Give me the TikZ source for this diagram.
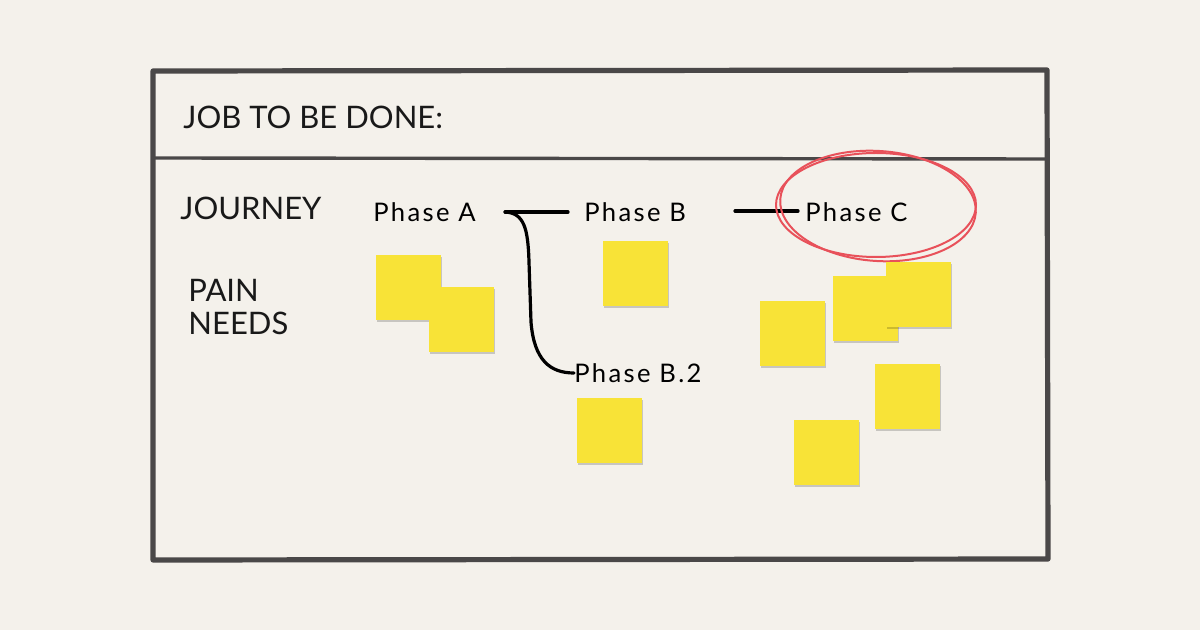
\documentclass[tikz,border=0pt]{standalone}
\usepackage{fontspec}
\setmainfont{Lato}
\newfontfamily\handfont[LetterSpace=9]{Lato}
\usetikzlibrary{shadows,calc}
\definecolor{bg}{HTML}{F4F1EB}
\definecolor{frame}{HTML}{4A4848}
\definecolor{sticky}{HTML}{F8E337}
\definecolor{ring}{HTML}{E8515A}
\tikzset{
  note/.style={fill=sticky, minimum width=32.5pt, minimum height=32.5pt, inner sep=0pt,
    drop shadow={shadow xshift=0.4pt, shadow yshift=-1pt, opacity=0.18, fill=black}},
  head/.style={anchor=west, inner sep=0pt, font=\fontsize{15.5}{18}\selectfont, text=black!90},
  phase/.style={anchor=west, inner sep=0pt, font=\handfont\fontsize{12.8}{14}\selectfont, text=black},
  link/.style={line width=1.6pt, black, line cap=round},
  frameline/.style={frame, line width=2.6pt, line join=round},
}
\begin{document}
\begin{tikzpicture}[x=0.5pt,y=-0.5pt]
\fill[bg] (0,0) rectangle (1200,630);
\useasboundingbox (0,0) rectangle (1200,630);
% frame
\draw[frameline] (153,71) -- (1047,70) -- (1048,559) -- (153,560) -- cycle;
\draw[frame, line width=1.7pt] (153,158) -- (1047,159);
% headings
\node[head] (jtbd) at (183,117) {JOB TO BE DONE:};
\node[head] (journey) at (180,208) {JOURNEY};
\node[head] (pain) at (188,290) {PAIN};
\node[head] (needs) at (188,323) {NEEDS};
% phases
\node[phase] (pa) at (373,212) {Phase A};
\node[phase] (pb) at (584,212) {Phase B};
\node[phase] (pc) at (805,212) {Phase C};
\node[phase] (pb2) at (574,373) {Phase B.2};
% connectors
\coordinate (fork) at (505,212);
\coordinate (bend) at (568,212);
\coordinate (bc1) at (735,211);
\coordinate (bc2) at (798,211);
\draw[link] (fork) -- (bend);
\draw[link] (fork) .. controls (524,213) and (528,228) .. (529,262)
  -- (531,322) .. controls (534,360) and (550,373) .. (pb2.west);
\draw[link] (bc1) -- (bc2);
% red ring
\draw[ring, line width=1pt] (876,205) ellipse [x radius=50pt, y radius=26pt];
\draw[ring, line width=1pt, rotate around={-4:(878,206)}] (878,206) ellipse [x radius=49pt, y radius=27.5pt];
% sticky notes
\node[note] (s1) at (408.5,287.5) {};
\node[note] (s2) at (461.5,319.5) {};
\node[note] (s3) at (635.5,273.5) {};
\node[note] (s4) at (609.5,430.5) {};
\node[note] (s5) at (792.5,333.5) {};
\node[note] (s6) at (865.5,308.5) {};
\node[note] (s7) at (918.5,294.5) {};
\node[note] (s8) at (907.5,396.5) {};
\node[note] (s9) at (826.5,452.5) {};
\end{tikzpicture}
\end{document}
